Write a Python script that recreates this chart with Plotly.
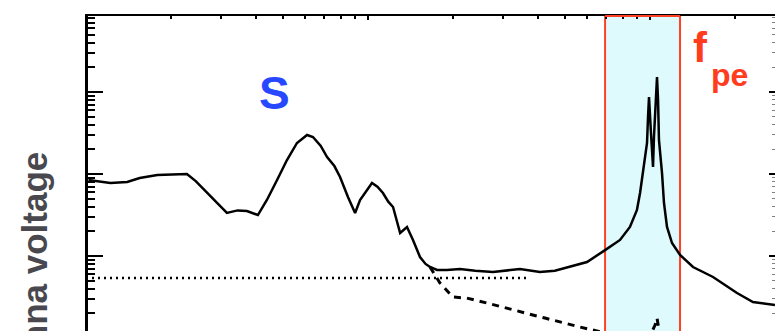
import plotly.graph_objects as go

# Measured antenna spectrum (frequency in kHz, voltage in arbitrary units)
freq_main = [1.02, 1.22, 1.40, 1.55, 1.79, 2.28, 2.45, 2.69, 3.00, 3.16, 3.45, 3.72,
             4.07, 4.38, 4.76, 5.16, 5.60, 6.08, 6.38, 6.80, 7.16, 7.60, 7.96, 8.49,
             9.00, 9.37, 10.33, 10.8, 11.3, 11.8, 12.27, 13.0, 13.75, 14.44, 15.29,
             16.0, 16.59, 17.57, 19.06, 21.2, 24.0, 27.75, 34.6, 40.7, 46.0, 52.0,
             59.8, 69.3, 78.3, 84.9, 89.9, 92.2, 95.2, 97.6, 98.4, 99.2, 100.8, 102.5,
             103.3, 105.0, 105.9, 106.8, 107.6, 110.3, 112.1, 114.9, 119.7, 127.8,
             142.1, 167.3, 203.5, 231.8, 277.5]
volt_main = [8.45, 7.77, 8.0, 8.94, 9.72, 10.0, 8.2, 5.87, 4.0, 3.35, 3.6, 3.54,
             3.16, 4.82, 8.45, 14.8, 23.9, 29.9, 28.3, 22.0, 16.1, 12.5, 9.19, 5.24,
             3.35, 4.82, 7.77, 7.0, 5.87, 4.6, 3.96, 1.91, 2.26, 1.57, 0.972,
             0.80, 0.734, 0.675, 0.675, 0.694, 0.66, 0.638, 0.694, 0.638, 0.66, 0.734,
             0.845, 1.18, 1.57, 2.26, 3.64, 5.87, 12.2, 23.9, 49.6, 86.9, 31.6, 12.2,
             28.3, 115.0, 152.0, 79.9, 26.0, 10.3, 4.43, 2.26, 1.44, 1.03,
             0.734, 0.555, 0.354, 0.275, 0.253]

# Model spectrum without the plasma line contribution
freq_model = [16.59, 18.0, 20.0, 22.4, 26.4, 32.7, 42.4, 56.5, 72.1, 92.2, 100.0,
              104.2, 105.9, 107.6, 113.0, 150.0]
volt_model = [0.734, 0.469, 0.316, 0.307, 0.267, 0.2195, 0.175, 0.136, 0.112, 0.10,
              0.106, 0.144, 0.175, 0.125, 0.082, 0.07]

# Receiver noise floor
freq_noise = [1.0, 37.5]
volt_noise = [0.54, 0.54]

# Plasma-frequency band
fpe_band = [69.3, 127.8]

# Axis ticks
x_major = [1, 10, 100]
x_minor = [m * d for d in (1, 10, 100) for m in range(2, 10)]
y_major = [1, 10, 100]
y_minor = [m * d for d in (0.1, 1, 10, 100) for m in range(2, 10)]

x_range = [0.0071, 2.4433]
y_range = [-0.9146, 2.927]

fig = go.Figure()

fig.add_trace(go.Scatter(x=freq_noise, y=volt_noise, mode="lines",
                         line=dict(color="black", width=2.5, dash="2px,4px"),
                         hoverinfo="skip"))
fig.add_trace(go.Scatter(x=freq_model, y=volt_model, mode="lines",
                         line=dict(color="black", width=3, dash="7px,6px"),
                         hoverinfo="skip"))
fig.add_trace(go.Scatter(x=freq_main, y=volt_main, mode="lines",
                         line=dict(color="black", width=2.5),
                         hoverinfo="skip"))
# carrier for the right-hand tick axis
fig.add_trace(go.Scatter(x=[10], y=[1], mode="markers", yaxis="y2",
                         marker=dict(opacity=0), hoverinfo="skip"))

fig.add_shape(type="rect", xref="x", yref="paper",
              x0=fpe_band[0], x1=fpe_band[1], y0=-0.1, y1=1,
              fillcolor="rgb(222,250,252)", layer="below",
              line=dict(color="rgb(255,64,36)", width=2))
fig.add_shape(type="line", xref="x", yref="paper",
              x0=fpe_band[0], x1=fpe_band[1], y0=1, y1=1,
              layer="above", line=dict(color="rgb(255,64,36)", width=2))

fig.add_annotation(x=0.670, y=1.988, xref="x", yref="y", text="<b>S</b>",
                   showarrow=False,
                   font=dict(family="Arial", size=46, color="rgb(40,72,255)"))
# f with a deep subscript "pe"
fig.add_annotation(x=2.145, y=2.543, xref="x", yref="y", text="<b>f</b>",
                   showarrow=False, xanchor="left", yanchor="middle",
                   font=dict(family="Arial", size=42, color="rgb(255,60,30)"))
fig.add_annotation(x=2.209, y=2.207, xref="x", yref="y", text="<b>pe</b>",
                   showarrow=False, xanchor="left", yanchor="middle",
                   font=dict(family="Arial", size=32, color="rgb(255,60,30)"))
fig.add_annotation(x=-0.077, y=0.575, xref="paper", yref="paper",
                   text="<b>Antenna voltage</b>", textangle=-90, showarrow=False,
                   xanchor="center", yanchor="top",
                   font=dict(family="Arial", size=35, color="rgb(72,72,78)"))

fig.update_layout(
    width=775, height=331,
    margin=dict(l=88, r=0, t=16, b=0, pad=0),
    paper_bgcolor="white", plot_bgcolor="white",
    showlegend=False,
    xaxis=dict(type="log", range=x_range, side="top", showline=True,
               linecolor="black", linewidth=2, showgrid=False, zeroline=False,
               showticklabels=False, ticks="inside", tickmode="array",
               tickvals=x_major, ticklen=4, tickwidth=2, tickcolor="black",
               minor=dict(tickmode="array", tickvals=x_minor, ticks="inside",
                          ticklen=3, tickwidth=2, tickcolor="black", showgrid=False)),
    yaxis=dict(type="log", range=y_range, showline=True, linecolor="black",
               linewidth=3, showgrid=False, zeroline=False, showticklabels=False,
               ticks="inside", tickmode="array", tickvals=y_major, ticklen=15,
               tickwidth=2, tickcolor="black",
               minor=dict(tickmode="array", tickvals=y_minor, ticks="inside",
                          ticklen=7, tickwidth=2, tickcolor="black", showgrid=False)),
    yaxis2=dict(type="log", range=y_range, overlaying="y", side="right",
                anchor="x", showline=False, showgrid=False, zeroline=False,
                showticklabels=False, ticks="inside", tickmode="array",
                tickvals=y_major, ticklen=6, tickwidth=2, tickcolor="black",
                minor=dict(tickmode="array", tickvals=y_minor, ticks="inside",
                           ticklen=3, tickwidth=1, tickcolor="gray", showgrid=False)),
)

fig.write_html("out.html")
